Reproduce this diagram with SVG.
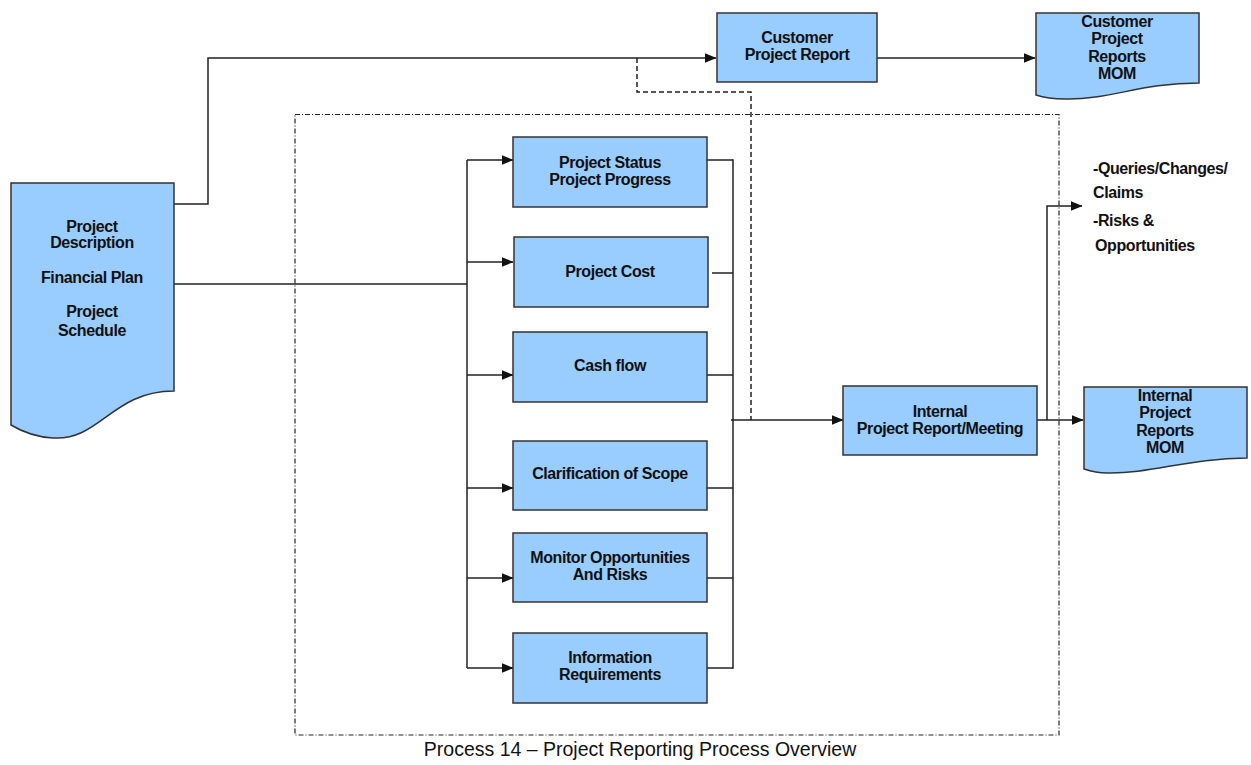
<svg xmlns="http://www.w3.org/2000/svg" width="1251" height="765" viewBox="0 0 1251 765">
<style>
.box{fill:#99ccff;stroke:#333;stroke-width:1.5}
.t{font-family:"Liberation Sans",Arial,sans-serif;font-weight:bold;font-size:16px;fill:#111;text-anchor:middle;letter-spacing:-0.4px}
.tl{font-family:"Liberation Sans",Arial,sans-serif;font-weight:bold;font-size:16px;fill:#111;letter-spacing:-0.4px}
.ln{fill:none;stroke:#222;stroke-width:1.5}
.arr{fill:none;stroke:#222;stroke-width:1.5;marker-end:url(#ah)}
.dash{fill:none;stroke:#222;stroke-width:1.5;stroke-dasharray:5 3}
.dd{fill:none;stroke:#222;stroke-width:1.2;stroke-dasharray:5 2 1 2}
.cap{font-family:"Liberation Sans",Arial,sans-serif;font-size:19.5px;fill:#111;text-anchor:middle}
</style>
<defs>
<marker id="ah" markerWidth="12" markerHeight="10" refX="11.5" refY="5" orient="auto" markerUnits="userSpaceOnUse">
<path d="M0,0 L12,5 L0,10 Z" fill="#111"/>
</marker>
</defs>
<rect width="1251" height="765" fill="#fff"/>
<g id="boundary">
<rect class="dd" x="295" y="114.5" width="764" height="620.5"/>
</g>
<g id="connectors">
<polyline class="arr" points="174,204 208,204 208,58 716,58"/>
<line class="arr" x1="877" y1="58" x2="1035" y2="58"/>
<polyline class="dash" points="637,58 637,92 751,92 751,420"/>
<line class="ln" x1="174" y1="284" x2="467" y2="284"/>
<line class="ln" x1="467" y1="160" x2="467" y2="668"/>
<line class="arr" x1="467" y1="160" x2="513" y2="160"/>
<line class="arr" x1="467" y1="262" x2="513" y2="262"/>
<line class="arr" x1="467" y1="375" x2="513" y2="375"/>
<line class="arr" x1="467" y1="488" x2="513" y2="488"/>
<line class="arr" x1="467" y1="578" x2="513" y2="578"/>
<line class="arr" x1="467" y1="668" x2="513" y2="668"/>
<line class="ln" x1="733" y1="159.25" x2="733" y2="668.75"/>
<line class="ln" x1="707" y1="160" x2="733" y2="160"/>
<line class="ln" x1="712" y1="273" x2="733" y2="273"/>
<line class="ln" x1="707" y1="375" x2="733" y2="375"/>
<line class="ln" x1="707" y1="488" x2="733" y2="488"/>
<line class="ln" x1="707" y1="578" x2="733" y2="578"/>
<line class="ln" x1="707" y1="668" x2="733" y2="668"/>
<line class="arr" x1="731" y1="420" x2="843" y2="420"/>
<line class="arr" x1="1037" y1="420" x2="1083" y2="420"/>
<polyline class="arr" points="1047,420 1047,206 1082,206"/>
</g>
<g id="input-doc">
<path class="box" d="M11,183 H174 V391 C112,391 100,441 53,438 C35,437 21,431 11,425 Z"/>
<text class="t" x="92" y="232">Project</text>
<text class="t" x="92" y="248">Description</text>
<text class="t" x="92" y="283">Financial Plan</text>
<text class="t" x="92" y="317">Project</text>
<text class="t" x="92" y="336">Schedule</text>
</g>
<g id="customer-report">
<rect class="box" x="717" y="13" width="160" height="69"/>
<text class="t" x="797" y="43">Customer</text>
<text class="t" x="797" y="60">Project Report</text>
</g>
<g id="customer-doc">
<path class="box" d="M1036,13 H1199 V83 C1140,83 1110,100 1065,99 C1050,99 1042,97 1036,95 Z"/>
<text class="t" x="1117" y="27">Customer</text>
<text class="t" x="1117" y="44">Project</text>
<text class="t" x="1117" y="62">Reports</text>
<text class="t" x="1117" y="79">MOM</text>
</g>
<g id="status">
<rect class="box" x="513" y="137" width="194" height="70"/>
<text class="t" x="610" y="168">Project Status</text>
<text class="t" x="610" y="185">Project Progress</text>
</g>
<g id="cost">
<rect class="box" x="514" y="237" width="194" height="70"/>
<text class="t" x="610" y="277">Project Cost</text>
</g>
<g id="cashflow">
<rect class="box" x="513" y="332" width="194" height="70"/>
<text class="t" x="610" y="371">Cash flow</text>
</g>
<g id="scope">
<rect class="box" x="513" y="441" width="194" height="69"/>
<text class="t" x="610" y="479">Clarification of Scope</text>
</g>
<g id="risks">
<rect class="box" x="513" y="533" width="194" height="69"/>
<text class="t" x="610" y="563">Monitor Opportunities</text>
<text class="t" x="610" y="580">And Risks</text>
</g>
<g id="info">
<rect class="box" x="513" y="633" width="194" height="70"/>
<text class="t" x="610" y="663">Information</text>
<text class="t" x="610" y="680">Requirements</text>
</g>
<g id="internal-report">
<rect class="box" x="843" y="386" width="194" height="69"/>
<text class="t" x="940" y="417">Internal</text>
<text class="t" x="940" y="434">Project Report/Meeting</text>
</g>
<g id="internal-doc">
<path class="box" d="M1084,387 H1247 V458 C1190,458 1150,474 1107,473 C1097,473 1090,471 1084,469 Z"/>
<text class="t" x="1165" y="401">Internal</text>
<text class="t" x="1165" y="418">Project</text>
<text class="t" x="1165" y="436">Reports</text>
<text class="t" x="1165" y="453">MOM</text>
</g>
<g id="queries">
<text class="tl" x="1093" y="174">-Queries/Changes/</text>
<text class="tl" x="1093" y="198">Claims</text>
<text class="tl" x="1093" y="226">-Risks &amp;</text>
<text class="tl" x="1095" y="251">Opportunities</text>
</g>
<text class="cap" x="640" y="756">Process 14 – Project Reporting Process Overview</text>
</svg>
